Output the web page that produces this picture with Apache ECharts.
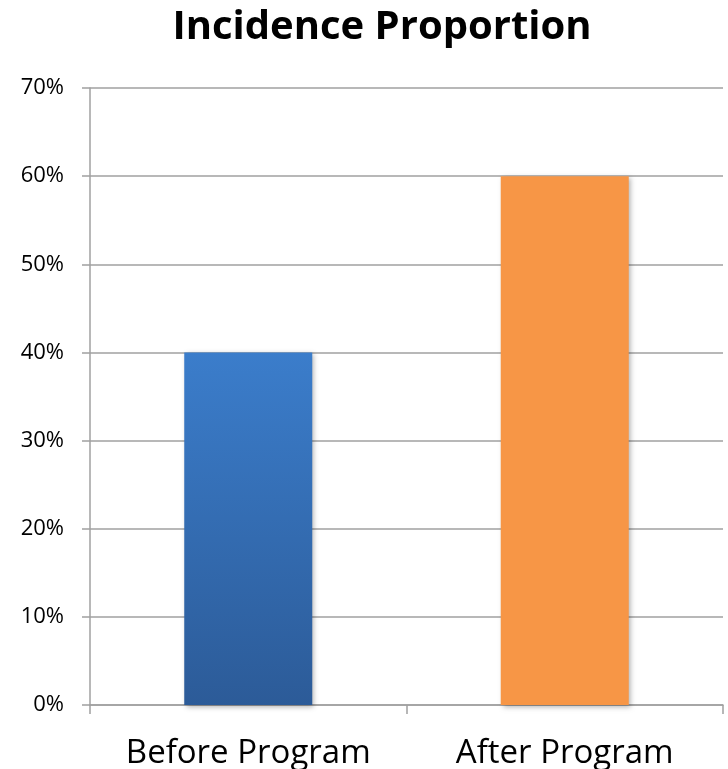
<!DOCTYPE html>
<html>
<head>
<meta charset="utf-8">
<style>
  html, body { margin: 0; padding: 0; background: #ffffff; }
  #chart { width: 728px; height: 769px; }
</style>
<script src="https://cdn.jsdelivr.net/npm/echarts@6/dist/echarts.min.js"></script>
</head>
<body>
<div id="chart"></div>
<script>
// Incidence proportion before and after the program (percent)
const titleText = 'Incidence Proportion';
const categories = ['Before Program', 'After Program'];
const proportions = [40, 60];
const yMin = 0;
const yMax = 70;
const yStep = 10;

const fontFamily = '"Open Sans", "Noto Sans", sans-serif';

const barStyles = [
  {
    color: new echarts.graphic.LinearGradient(0, 0, 0, 1, [
      { offset: 0, color: '#3b7dcb' },
      { offset: 1, color: '#2c5b98' }
    ])
  },
  { color: '#f79646' }
];

const chart = echarts.init(document.getElementById('chart'), null, { renderer: 'canvas' });

chart.setOption({
  backgroundColor: '#ffffff',
  animation: false,
  title: {
    text: titleText,
    left: 377,
    textAlign: 'center',
    top: 3,
    textStyle: {
      fontFamily: fontFamily,
      fontSize: 40,
      fontWeight: 'bold',
      color: '#000000'
    }
  },
  grid: {
    left: 90,
    right: 5,
    top: 88,
    bottom: 64,
    containLabel: false,
    outerBoundsMode: 'none'
  },
  xAxis: {
    type: 'category',
    data: categories,
    boundaryGap: true,
    axisLine: { show: true, lineStyle: { color: '#a0a0a0', width: 1.5 } },
    axisTick: { show: true, alignWithLabel: false, length: 9, lineStyle: { color: '#a0a0a0', width: 1.5 } },
    axisLabel: {
      interval: 0,
      hideOverlap: false,
      margin: 32,
      fontFamily: fontFamily,
      fontSize: 33,
      color: '#000000'
    }
  },
  yAxis: {
    type: 'value',
    min: yMin,
    max: yMax,
    interval: yStep,
    axisLine: { show: true, lineStyle: { color: '#a0a0a0', width: 1.5 } },
    axisTick: { show: true, length: 8, lineStyle: { color: '#a0a0a0', width: 1.5 } },
    splitLine: { show: true, lineStyle: { color: '#a0a0a0', width: 1.5 } },
    axisLabel: {
      margin: 26,
      fontFamily: fontFamily,
      fontSize: 22,
      color: '#000000',
      formatter: v => v + '%'
    }
  },
  series: [{
    type: 'bar',
    barWidth: 128,
    data: proportions.map((v, i) => ({
      value: v,
      itemStyle: Object.assign({
        shadowBlur: 5,
        shadowOffsetX: 2,
        shadowOffsetY: 2,
        shadowColor: 'rgba(0,0,0,0.3)'
      }, barStyles[i])
    }))
  }]
});
</script>
</body>
</html>
